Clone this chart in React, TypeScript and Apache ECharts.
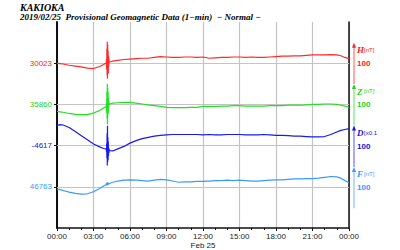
import React, { useEffect, useRef } from "react";
import * as echarts from "echarts";

// time of day in minutes
const minutes = [
  0, 15, 30, 60, 90, 120, 150, 180, 210, 230, 240,
  243, 244, 245, 246, 247, 248, 249, 250, 251, 252, 253, 254, 255, 256, 257, 258,
  260, 275,
  300, 330, 360, 390, 420, 450, 480, 510, 540, 570, 600, 630, 660, 690, 720, 750,
  780, 810, 840, 870, 900, 930, 960, 990, 1020, 1050, 1080, 1110, 1140, 1170, 1200,
  1230, 1260, 1290, 1320, 1350, 1380,
  1400, 1420, 1440,
];

// H [nT]
const hValues = [
  30023, 30022, 30021, 30018, 30016, 30014, 30011, 30010, 30015, 30020, 30023,
  30024, 30033, 30008, 30058, 29993, 30075, 29985, 30068, 30003, 30053, 29998, 30041, 30015, 30035, 30025, 30026,
  30026, 30028,
  30030, 30032, 30033, 30034, 30035, 30035, 30037, 30039, 30038, 30037, 30037, 30038, 30038, 30037, 30038, 30035,
  30036, 30037, 30037, 30038, 30038, 30037, 30038, 30037, 30037, 30038, 30039, 30040, 30040, 30041, 30041,
  30042, 30043, 30043, 30043, 30044, 30043,
  30041, 30037, 30034,
];

// Z [nT]
const zValues = [
  35843, 35842, 35841, 35838, 35836, 35835, 35835, 35839, 35845, 35851, 35854,
  35855, 35865, 35840, 35890, 35825, 35910, 35811, 35900, 35835, 35890, 35840, 35875, 35850, 35868, 35860, 35861,
  35861, 35863,
  35864, 35865, 35865, 35863, 35861, 35859, 35857, 35855, 35853, 35852, 35852, 35852, 35853, 35853, 35855, 35855,
  35855, 35856, 35856, 35857, 35857, 35856, 35856, 35856, 35856, 35857, 35857, 35857, 35858, 35858, 35858,
  35859, 35860, 35860, 35861, 35861, 35860,
  35858, 35856, 35853,
];

// D [x0.1']
const dValues = [
  -4568, -4566, -4567, -4573, -4583, -4593, -4603, -4613, -4620, -4624, -4625,
  -4626, -4632, -4612, -4647, -4587, -4665, -4569, -4657, -4597, -4652, -4607, -4642, -4622, -4635, -4627, -4628,
  -4629, -4630,
  -4625, -4619, -4611, -4605, -4600, -4597, -4594, -4592, -4591, -4590, -4590, -4590, -4590, -4590, -4591, -4590,
  -4591, -4591, -4590, -4590, -4590, -4591, -4591, -4591, -4590, -4591, -4592, -4592, -4593, -4594, -4594,
  -4595, -4596, -4596, -4595, -4590, -4584,
  -4580, -4578, -4576,
];

// F [nT]
const fValues = [
  46757, 46756, 46754, 46750, 46747, 46745, 46746, 46751, 46759, 46765, 46768,
  46769, 46771, 46767, 46773, 46766, 46774, 46767, 46772, 46769, 46773, 46768, 46772, 46770, 46771, 46771, 46771,
  46772, 46774,
  46777, 46779, 46780, 46779, 46778, 46777, 46779, 46781, 46780, 46777, 46774, 46775, 46775, 46776, 46776, 46777,
  46778, 46778, 46779, 46778, 46779, 46778, 46777, 46777, 46778, 46779, 46780, 46780, 46781, 46782, 46782,
  46783, 46783, 46784, 46786, 46788, 46787,
  46784, 46778, 46773,
];

const components = ["H", "Z", "D", "F"];
const baseValues = [30023, 35860, -4617, 46763];
const baseLabels = ["30023", "35860", "-4617", "46763"];
const unitLabels = ["[nT]", "[nT]", "[x0.1", "[nT]"];
const scaleLabel = "100";
const slots = [400, 300, 200, 100];
const tickLabels = ["00:00", "03:00", "06:00", "09:00", "12:00", "15:00", "18:00", "21:00", "00:00"];
const dateLabel = "Feb 25";

const lineColors = ["#ff2a2a", "#22e022", "#1a1aee", "#3a9aff"];
const textColors = ["#ff2020", "#22d022", "#1414dd", "#3399ff"];
const arrowColors = ["#ff8c8c", "#8cee8c", "#8c8cff", "#a0d0ff"];

const GRID_LEFT = 57;
const GRID_RIGHT = 349;
const GRID_TOP = 22;
const GRID_BOTTOM = 229;
const Y_MAX = 500;

export default function App() {
  const ref = useRef<HTMLDivElement>(null);

  useEffect(() => {
    if (!ref.current) return;
    const chart = echarts.init(ref.current, null, { renderer: "svg" });
    const allValues = [hValues, zValues, dValues, fValues];
    const yPix = (v: number) => GRID_BOTTOM - (v * (GRID_BOTTOM - GRID_TOP)) / Y_MAX;
    const sans = "Liberation Sans, Arial, sans-serif";
    const serif = "Liberation Serif, Times New Roman, serif";

    const series: any[] = allValues.map((vals, k) => ({
      type: "line",
      name: components[k],
      showSymbol: false,
      symbol: "none",
      yAxisIndex: 0,
      lineStyle: { color: lineColors[k], width: 1.2 },
      data: minutes.map((m, i) => [m, slots[k] + (vals[i] - baseValues[k])]),
      z: 3,
      markLine:
        k === 0
          ? {
              silent: true,
              symbol: "none",
              label: { show: false },
              lineStyle: { color: "#c4c4c4", width: 1.2, type: "solid" },
              data: slots.map((s) => ({ yAxis: s })),
              z: 1,
            }
          : undefined,
    }));

    const graphic: any[] = [
      {
        type: "text",
        left: 20,
        top: 2,
        style: { text: "KAKIOKA", font: `bold italic 10px ${serif}`, fill: "#000" },
      },
      {
        type: "text",
        left: 20,
        top: 12,
        style: {
          text: "2019/02/25  Provisional Geomagnetic Data (1\u2212min)  \u2212 Normal \u2212",
          font: `bold italic 9px ${serif}`,
          fill: "#000",
        },
      },
    ];

    const ax = 354;
    slots.forEach((s, k) => {
      const top = yPix(s + 50);
      const bottom = yPix(s - 50);
      graphic.push({
        type: "line",
        shape: { x1: ax, y1: top + 3, x2: ax, y2: bottom },
        style: { stroke: arrowColors[k], lineWidth: 1.5 },
      });
      graphic.push({
        type: "polygon",
        shape: { points: [[ax - 2, top + 5], [ax + 2, top + 5], [ax, top]] },
        style: { fill: textColors[k] },
      });
      graphic.push({
        type: "text",
        x: 357,
        y: top + 3,
        style: { text: components[k], font: `bold italic 9px ${serif}`, fill: textColors[k] },
      });
      graphic.push({
        type: "text",
        x: 364,
        y: top + 4,
        style: { text: unitLabels[k], font: `6px ${sans}`, fill: textColors[k] },
      });
      graphic.push({
        type: "text",
        x: 357,
        y: yPix(s),
        style: {
          text: scaleLabel,
          font: `bold 8px ${sans}`,
          fill: textColors[k],
          verticalAlign: "middle",
        },
      });
    });

    const rich: any = {};
    textColors.forEach((c, k) => {
      rich["c" + k] = { color: c, fontSize: 8, fontFamily: sans };
    });

    chart.setOption({
      animation: false,
      backgroundColor: "#fff",
      grid: {
        left: GRID_LEFT,
        right: 400 - GRID_RIGHT,
        top: GRID_TOP,
        bottom: 250 - GRID_BOTTOM,
        containLabel: false,
      },
      xAxis: {
        type: "value",
        min: 0,
        max: 1440,
        interval: 180,
        axisLine: { show: true, lineStyle: { color: "#111", width: 1.5 } },
        axisTick: { show: true, length: 3, lineStyle: { color: "#111" } },
        minorTick: { show: true, splitNumber: 3, length: 2, lineStyle: { color: "#111" } },
        splitLine: { show: true, lineStyle: { color: "#c4c4c4", width: 1.2 } },
        axisLabel: {
          margin: 4,
          fontSize: 8,
          fontFamily: sans,
          color: "#222",
          lineHeight: 9,
          formatter: (v: number) => {
            const idx = Math.round(v / 180);
            const lbl = tickLabels[idx] ?? "";
            return v === 720 ? `${lbl}\n${dateLabel}` : lbl;
          },
        },
      },
      yAxis: [
        {
          type: "value",
          min: 0,
          max: Y_MAX,
          interval: 100,
          position: "left",
          axisLine: { show: true, lineStyle: { color: "#111", width: 2 } },
          axisTick: { show: true, length: 3, customValues: slots, lineStyle: { color: "#111" } },
          splitLine: { show: false },
          axisLabel: {
            margin: 5,
            customValues: slots,
            formatter: (v: number) => {
              const k = slots.indexOf(v);
              return k >= 0 ? `{c${k}|${baseLabels[k]}}` : "";
            },
            rich,
          },
        },
        {
          type: "value",
          min: 0,
          max: Y_MAX,
          position: "right",
          axisLine: { show: true, onZero: false, lineStyle: { color: "#111", width: 1.5 } },
          axisTick: { show: false },
          axisLabel: { show: false },
          splitLine: { show: false },
        },
      ],
      series,
      graphic,
    });

    return () => chart.dispose();
  }, []);

  return (
    <div
      ref={ref}
      style={{ position: "absolute", left: 0, top: 0, width: 400, height: 250 }}
    />
  );
}
